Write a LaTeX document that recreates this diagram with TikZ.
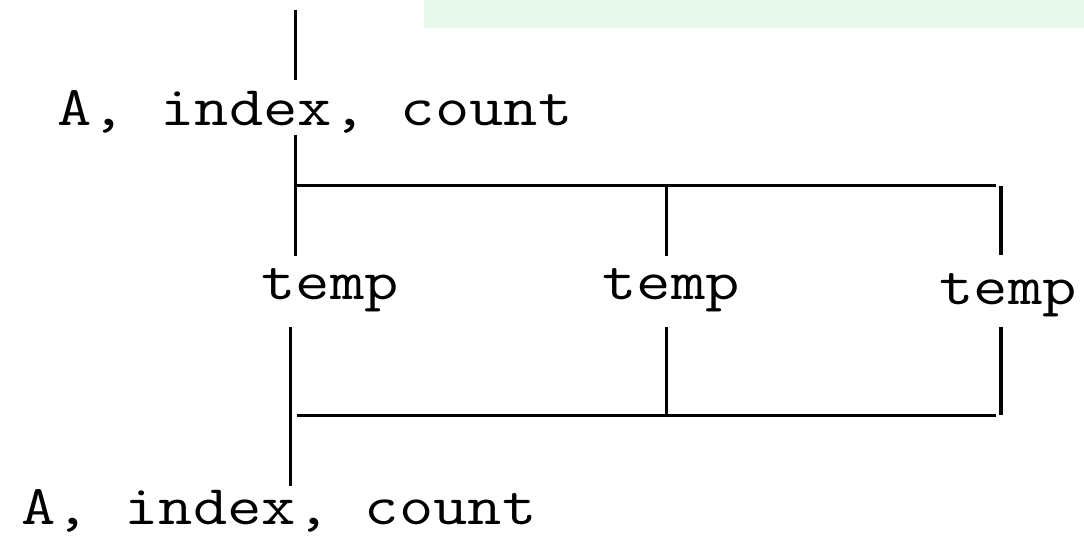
\documentclass[tikz,border=0pt]{standalone}
\definecolor{greenbg}{RGB}{232,248,234}
\newcommand{\wideTT}[1]{\scalebox{1.19}[1]{#1}}
\tikzset{
  lbl/.style={font=\ttfamily\fontsize{56}{60}\selectfont, inner sep=0pt, anchor=base},
  wire/.style={line width=3pt, black},
  wirethick/.style={line width=3.6pt, black}
}
\begin{document}
\begin{tikzpicture}[x=1pt,y=-1pt]
\useasboundingbox (0,0) rectangle (1084,537);
\fill[greenbg] (424,0) rectangle (1084,28);
% labels
\node[lbl] (in)  at (315,126) {\wideTT{A, index, count}};
\node[lbl] (t1)  at (330,300) {\wideTT{temp}};
\node[lbl] (t2)  at (671,300) {\wideTT{temp}};
\node[lbl] (t3)  at (1008,305) {\wideTT{temp}};
\node[lbl] (out) at (279,524) {\wideTT{A, index, count}};
% junction coordinates
\coordinate (a0) at (295,10);
\coordinate (a1) at (295,80);
\coordinate (b0) at (295,135);
\coordinate (j1) at (295,186);
\coordinate (b1) at (295,256);
\coordinate (m0) at (666,186);
\coordinate (m1) at (666,256);
\coordinate (r0) at (1001,186);
\coordinate (r1) at (1001,255);
\coordinate (h1) at (996,186);
\coordinate (l0) at (290,327);
\coordinate (l1) at (290,486);
\coordinate (h2a) at (297,415);
\coordinate (h2b) at (996,415);
\coordinate (m2) at (666,327);
\coordinate (m3) at (666,415);
\coordinate (r2) at (1001,327);
\coordinate (r3) at (1001,415);
% upper part
\draw[wire] (a0) -- (a1);
\draw[wire] (b0) -- (b1);
\draw[wire] (j1) -- (h1);
\draw[wire] (m0) -- (m1);
\draw[wirethick] (r0) -- (r1);
% lower part
\draw[wire] (l0) -- (l1);
\draw[wire] (h2a) -- (h2b);
\draw[wire] (m2) -- (m3);
\draw[wirethick] (r2) -- (r3);
\end{tikzpicture}
\end{document}
